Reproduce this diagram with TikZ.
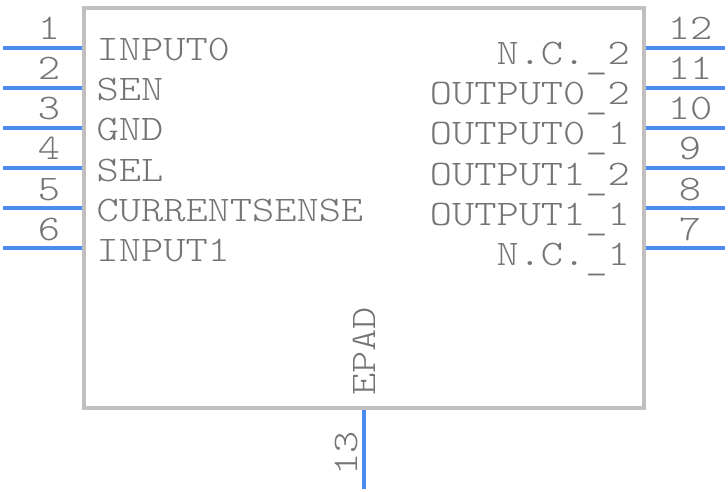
\documentclass[tikz,border=0pt]{standalone}
\usepackage{fontspec}
\newfontfamily\pinfont{Latin Modern Mono Light}[FakeStretch=1.175]
\definecolor{pinblue}{HTML}{4A8CF0}
\definecolor{bodygray}{HTML}{C0C0C0}
\definecolor{textgray}{HTML}{747474}
\newcommand{\pinbar}{\raisebox{-4pt}{\_}}
\tikzset{
	pinline/.style={draw=pinblue, line width=4pt},
	pintext/.style={text=textgray, inner sep=0pt, font=\pinfont\fontsize{36pt}{36pt}\selectfont},
}
\begin{document}
\begin{tikzpicture}[x=1pt,y=-1pt]
	\useasboundingbox (0,0) rectangle (728,492);
	\node[draw=bodygray, line width=4pt, minimum width=560pt, minimum height=400pt, inner sep=0pt, anchor=north west] (chip) at (82,6) {};
	% left side
	\foreach \num/\name/\ypos in {1/INPUT0/48,2/SEN/88,3/GND/128,4/SEL/168,5/CURRENTSENSE/208,6/INPUT1/248} {
		\coordinate (outL\num) at (3,\ypos);
		\coordinate (inL\num) at (82,\ypos);
		\draw[pinline] (outL\num) -- (inL\num);
		\node[pintext, anchor=base] (numL\num) at (49,\ypos-8) {\num};
		\node[pintext, anchor=base west] (nameL\num) at (96.5,\ypos+13) {\name};
	}
	% right side
	\foreach \num/\name/\ypos in {12/N.C.\pinbar2/48,11/OUTPUT0\pinbar2/88,10/OUTPUT0\pinbar1/128,9/OUTPUT1\pinbar2/168,8/OUTPUT1\pinbar1/208,7/N.C.\pinbar1/248} {
		\coordinate (outR\num) at (725,\ypos);
		\coordinate (inR\num) at (646,\ypos);
		\draw[pinline] (outR\num) -- (inR\num);
		\node[pintext, anchor=base] (numR\num) at (690,\ypos-8) {\num};
		\node[pintext, anchor=base east] (nameR\num) at (630,\ypos+17) {\name};
	}
	% bottom pad
	\coordinate (outB) at (364,489);
	\coordinate (inB) at (364,410);
	\draw[pinline] (outB) -- (inB);
	\node[pintext, anchor=base, rotate=90] (numB) at (357,453) {13};
	\node[pintext, anchor=base west, rotate=90] (nameB) at (375,396) {EPAD};
\end{tikzpicture}
\end{document}
